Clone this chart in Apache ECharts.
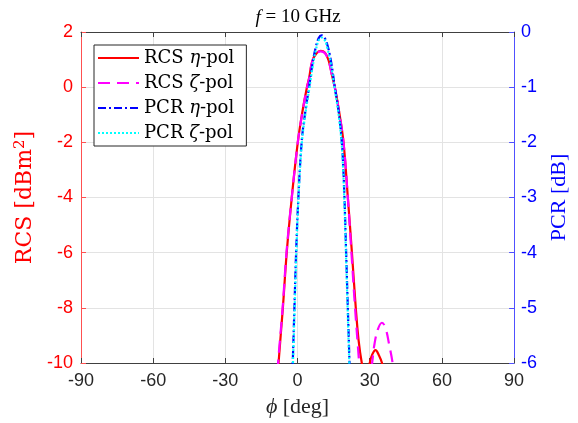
<!DOCTYPE html>
<html>
<head>
<meta charset="utf-8">
<script src="https://cdn.jsdelivr.net/npm/echarts@6/dist/echarts.min.js"></script>
<style>html,body{margin:0;padding:0;background:#fff}#c{width:578px;height:423px}</style>
</head>
<body>
<div id="c"></div>
<script>
// x ticks
const xTicks = [-90, -60, -30, 0, 30, 60, 90];
// RCS eta-pol [deg, dBm^2]
const rcsEtaX = [-8.6, -7.9, -6.1, -4.5, -2.4, 0.1, 2.0, 3.9, 4.8, 6.1, 7.8, 9.6, 11.4, 13.0, 14.4, 15.5, 17.3, 19.1, 20.9, 22.6, 24.2, 25.4, 26.7, 28.0, 29.0, 30.0, 31.0, 32.4, 33.8, 35.1, 36.0];
const rcsEtaY = [-11.0, -10.0, -8.0, -6.0, -4.0, -2.0, -0.9, 0.0, 0.33, 0.94, 1.22, 1.32, 1.25, 0.94, 0.4, 0.0, -0.9, -2.0, -4.0, -6.0, -8.0, -9.2, -10.0, -10.5, -10.6, -10.0, -9.7, -9.53, -9.72, -10.0, -10.5];
// RCS zeta-pol
const rcsZetaX = [-8.8, -8.1, -6.2, -4.6, -2.4, 0.1, 2.0, 3.9, 4.8, 6.1, 7.8, 9.6, 11.4, 13.0, 14.4, 15.5, 17.3, 19.1, 20.9, 22.4, 23.9, 25.6, 26.4, 29.5, 31.0, 32.0, 33.5, 35.1, 36.6, 38.0, 39.5, 40.4];
const rcsZetaY = [-11.0, -10.0, -8.0, -6.0, -4.0, -2.0, -0.92, -0.02, 0.31, 0.92, 1.2, 1.3, 1.23, 0.92, 0.38, -0.02, -0.92, -2.0, -4.0, -6.0, -8.0, -10.0, -11.0, -11.0, -10.0, -9.3, -8.75, -8.54, -8.75, -9.3, -10.0, -10.8];
// PCR eta-pol [deg, dB]
const pcrEtaX = [-2.6, -2.0, -1.3, -0.6, 0.35, 1.7, 3.2, 4.8, 6.2, 7.5, 8.8, 10.0, 11.2, 12.5, 13.9, 15.5, 17.1, 18.4, 19.0, 19.5, 20.2, 20.9, 21.6, 22.2];
const pcrEtaY = [-6.8, -6.0, -5.0, -4.0, -3.0, -2.0, -1.45, -1.0, -0.58, -0.29, -0.11, -0.06, -0.1, -0.25, -0.53, -1.0, -1.45, -2.0, -2.45, -3.0, -4.0, -5.0, -6.0, -6.8];
// PCR zeta-pol
const pcrZetaX = [-2.5, -1.9, -1.2, -0.5, 0.4, 1.8, 3.3, 4.9, 6.3, 7.6, 8.8, 10.0, 11.2, 12.4, 13.8, 15.4, 17.0, 18.3, 18.9, 19.4, 20.1, 20.8, 21.5, 22.1];
const pcrZetaY = [-6.8, -6.0, -5.0, -4.0, -3.0, -2.0, -1.47, -1.02, -0.62, -0.33, -0.15, -0.1, -0.14, -0.29, -0.57, -1.02, -1.47, -2.0, -2.45, -3.0, -4.0, -5.0, -6.0, -6.8];

const zip = (xs, ys) => xs.map((x, i) => [x, ys[i]]);
const serif = '"Liberation Serif", "DejaVu Serif", serif';
const serifWide = '"DejaVu Serif", serif';
const sans = '"Liberation Sans", Arial, sans-serif';

const chart = echarts.init(document.getElementById('c'));
chart.setOption({
  animation: false,
  backgroundColor: '#fff',
  title: {
    text: '{i|f} = 10 GHz',
    left: 293, top: 3, textAlign: 'center',
    textStyle: {
      fontFamily: serif, fontSize: 19, fontWeight: 'normal', color: '#000',
      rich: { i: { fontFamily: serif, fontSize: 19, fontStyle: 'italic', color: '#000' } }
    }
  },
  grid: { left: 81, right: 62, top: 32, bottom: 60 },
  legend: {
    orient: 'vertical', left: 94, top: 45,
    backgroundColor: '#fff', borderColor: '#262626', borderWidth: 1, borderRadius: 0,
    padding: [4, 12, 4, 3], itemGap: 7, itemWidth: 41, itemHeight: 14,
    itemStyle: { opacity: 0 },
    formatter: n => n.replace(/([ηζ])/, '{i|$1}'),
    textStyle: {
      fontFamily: serifWide, fontSize: 18, lineHeight: 18, color: '#000',
      rich: { i: { fontFamily: serifWide, fontSize: 18, fontStyle: 'italic', color: '#000' } }
    }
  },
  xAxis: [{
    type: 'value', min: -90, max: 90, interval: 30, position: 'bottom',
    name: '{i|ϕ} [deg]', nameLocation: 'middle', nameGap: 33,
    nameTextStyle: { fontFamily: serif, fontSize: 22, color: '#262626',
      rich: { i: { fontFamily: serif, fontSize: 22, fontStyle: 'italic', color: '#262626' } } },
    axisLine: { show: true, onZero: false, lineStyle: { color: '#404040', width: 1 } },
    axisTick: { show: true, inside: true, length: 5, lineStyle: { color: '#404040' } },
    axisLabel: { fontFamily: sans, fontSize: 18, color: '#262626', margin: 9 },
    splitLine: { show: true, lineStyle: { color: '#e3e3e3', width: 1 } }
  }, {
    type: 'value', min: -90, max: 90, interval: 30, position: 'top',
    axisLine: { show: true, onZero: false, lineStyle: { color: '#404040', width: 1 } },
    axisTick: { show: true, inside: true, length: 5, lineStyle: { color: '#404040' } },
    axisLabel: { show: false }, splitLine: { show: false }
  }],
  yAxis: [{
    type: 'value', min: -10, max: 2, interval: 2, position: 'left',
    name: 'RCS [dBm{s|2}]', nameLocation: 'middle', nameRotate: 90, nameGap: 40,
    nameTextStyle: { fontFamily: serifWide, fontSize: 22, color: '#ff0000',
      rich: { s: { fontFamily: serifWide, fontSize: 15, color: '#ff0000', verticalAlign: 'top', padding: [0, 0, 10, 0] } } },
    axisLine: { show: true, onZero: false, lineStyle: { color: '#ff5050', width: 1 } },
    axisTick: { show: true, inside: true, length: 5, lineStyle: { color: '#ff5050' } },
    axisLabel: { fontFamily: sans, fontSize: 18, color: '#ff0000', margin: 8 },
    splitLine: { show: true, lineStyle: { color: '#e3e3e3', width: 1 } }
  }, {
    type: 'value', min: -6, max: 0, interval: 1, position: 'right',
    name: 'PCR [dB]', nameLocation: 'middle', nameRotate: 90, nameGap: 33,
    nameTextStyle: { fontFamily: serif, fontSize: 22, color: '#0000ff' },
    axisLine: { show: true, onZero: false, lineStyle: { color: '#5050ff', width: 1 } },
    axisTick: { show: true, inside: true, length: 5, lineStyle: { color: '#5050ff' } },
    axisLabel: { fontFamily: sans, fontSize: 18, color: '#0000ff', margin: 7 },
    splitLine: { show: false }
  }],
  series: [{
    name: 'RCS η-pol', type: 'line', xAxisIndex: 0, yAxisIndex: 0, smooth: 0.4, symbol: 'none', clip: true,
    data: zip(rcsEtaX, rcsEtaY), color: '#ff0000',
    lineStyle: { color: '#ff0000', width: 2.2, type: 'solid' }
  }, {
    name: 'RCS ζ-pol', type: 'line', xAxisIndex: 0, yAxisIndex: 0, smooth: 0.4, symbol: 'none', clip: true,
    data: zip(rcsZetaX, rcsZetaY), color: '#ff00ff',
    lineStyle: { color: '#ff00ff', width: 2.2, type: [12, 7] }
  }, {
    name: 'PCR η-pol', type: 'line', xAxisIndex: 0, yAxisIndex: 1, smooth: 0.4, symbol: 'none', clip: true,
    data: zip(pcrEtaX, pcrEtaY), color: '#0000ff',
    lineStyle: { color: '#0000ff', width: 2.2, type: [8, 3, 2, 3] }
  }, {
    name: 'PCR ζ-pol', type: 'line', xAxisIndex: 0, yAxisIndex: 1, smooth: 0.4, symbol: 'none', clip: true,
    data: zip(pcrZetaX, pcrZetaY), color: '#00ffff',
    lineStyle: { color: '#00ffff', width: 2.2, type: [2, 2] }
  }]
});
</script>
</body>
</html>
